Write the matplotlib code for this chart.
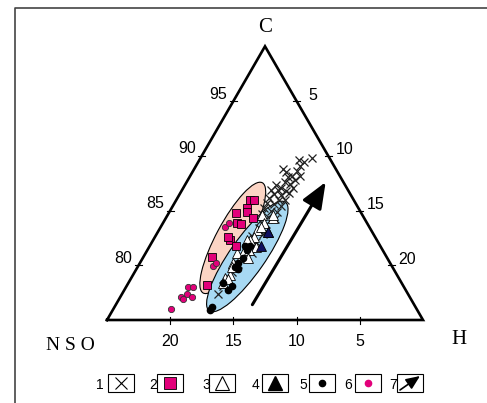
import numpy as np
import matplotlib
matplotlib.use('Agg')
import matplotlib.pyplot as plt
from matplotlib.patches import Ellipse, Rectangle, FancyArrowPatch

# ternary data, C (%) and H (%), NSO = 100 - C - H
# 1: crosses
c1 = [89.8, 89.6, 89.4, 89.1, 88.8, 88.6, 88.2, 88.2, 88.1, 87.8, 87.6, 87.4, 87.1, 87.1,
      86.9, 86.8, 86.5, 86.4, 86.6, 86.1, 86.0, 86.0, 85.7, 85.6, 85.4, 85.2, 85.0, 84.9,
      84.7, 84.4, 84.2, 84.0, 83.8, 83.4, 82.9, 82.7, 82.1, 81.7, 81.1, 80.7, 80.1, 79.4,
      78.7, 78.1, 77.4, 86.9, 87.3, 88.5]
h1 = [8.8, 7.9, 8.4, 8.2, 7.0, 8.2, 8.0, 8.7, 7.8, 8.5, 7.8, 8.3, 7.7, 8.7,
      7.6, 8.3, 7.5, 8.1, 8.6, 7.3, 8.1, 8.6, 7.3, 7.9, 8.6, 7.3, 8.0, 8.5,
      7.4, 8.0, 8.7, 7.6, 8.2, 7.8, 8.4, 7.6, 8.2, 7.8, 8.4, 7.9, 7.8, 7.7,
      7.7, 7.6, 7.6, 7.0, 7.2, 7.4]
# 2: squares
c2 = [86.0, 86.0, 85.2, 84.8, 84.9, 84.3, 83.9, 83.8, 82.3, 81.8, 80.8, 78.2, 82.6]
h2 = [5.8, 6.1, 6.0, 5.3, 6.1, 6.9, 5.8, 6.2, 6.1, 6.8, 5.4, 6.3, 5.8]
# 3: open triangles
c3 = [84.3, 83.0, 83.2, 82.6, 82.3, 82.3, 80.8, 81.1, 81.1, 80.2, 79.1, 78.8, 78.4,
      84.6, 83.9, 84.6, 83.5, 81.7, 81.4, 79.8, 80.7, 78.7]
h3 = [8.5, 8.7, 7.8, 7.8, 7.7, 7.4, 7.7, 7.7, 7.2, 7.4, 7.7, 7.4, 7.5,
      7.5, 8.0, 8.3, 7.9, 8.4, 8.0, 7.5, 8.3, 7.7]
# 4: filled triangles
c4 = [81.8, 83.0]
h4 = [8.8, 8.7]
# 5: black dots
c5 = [76.2, 75.9, 78.4, 77.7, 78.1, 79.8, 79.7, 80.2, 80.7, 81.4, 81.7, 81.8, 81.8]
h5 = [7.7, 7.7, 7.5, 8.2, 8.3, 7.7, 8.0, 7.8, 7.9, 7.9, 7.8, 7.9, 7.5]
# 6: pink dots
c6 = [83.5, 83.9, 79.9, 80.2, 78.0, 78.0, 77.4, 77.1, 76.9, 77.1, 76.0]
h6 = [5.1, 5.2, 5.9, 6.0, 4.9, 5.3, 5.1, 4.8, 5.1, 5.7, 4.6]

left_ticks = [95, 90, 85, 80]
right_ticks = [5, 10, 15, 20]
bottom_ticks = [20, 15, 10, 5]

MAG = '#e2007a'
S = 12.64  # pixels per unit
NUMFONT = ['Liberation Sans Narrow', 'Liberation Sans']


def tern(c, h):
    c = np.asarray(c, dtype=float)
    h = np.asarray(h, dtype=float)
    return h + (c - 75) / 2, (c - 75) * np.sqrt(3) / 2


def px(x, y):
    return (x - 107) / S, (320 - y) / S


fig = plt.figure(figsize=(4.87, 4.03), dpi=100)
ax = fig.add_axes([0, 0, 1, 1])
ax.set_xlim(-107 / S, 380 / S)
ax.set_ylim(-83 / S, 320 / S)
ax.axis('off')

# frame
ax.plot(*zip(px(15, 403), px(15, 8), px(487, 8)), color='#444444', lw=1.2)

# triangle
tri = tern([75, 100, 75, 75], [0, 0, 25, 0])
ax.plot(tri[0], tri[1], color='black', lw=1.9, solid_joinstyle='miter')

tk = 3.5 / S
for v in left_ticks:
    x, y = tern(v, 0)
    ax.plot([x - tk, x + tk], [y, y], color='black', lw=0.8)
    ax.text(x - 15 / S, y + 7 / S, str(v), ha='center', va='center', fontsize=11.5,
            family=NUMFONT)
for v in right_ticks:
    x, y = tern(100 - v, v)
    ax.plot([x - tk, x + tk], [y, y], color='black', lw=0.8)
    ax.text(x + 16 / S, y + 6 / S, str(v), ha='center', va='center', fontsize=11.5,
            family=NUMFONT)
for v in bottom_ticks:
    x, y = tern(75, 25 - v)
    ax.plot([x, x], [y - tk, y + tk], color='black', lw=0.8)
    ax.text(x, y - 21 / S, str(v), ha='center', va='center', fontsize=11.5,
            family=NUMFONT)

ax.text(*px(265, 27), 'C', ha='center', va='center', fontsize=15, family='Liberation Serif')
ax.text(*px(70, 345), 'N S O', ha='center', va='center', fontsize=14, family='Liberation Serif')
ax.text(*px(459, 339), 'H', ha='center', va='center', fontsize=15, family='Liberation Serif')

# ellipses
ax.add_patch(Ellipse(tern(82.5, 6.2), 9.9, 2.6, angle=61.8, facecolor='#fbd4c4',
                     edgecolor='black', lw=0.8, zorder=1))
ax.add_patch(Ellipse(tern(80.8, 8.2), 10.5, 2.8, angle=55, facecolor='#a7d9f3',
                     edgecolor='black', lw=0.8, zorder=1))

# points
ax.plot(*tern(c1, h1), 'x', color='#222222', ms=6, mew=0.9, zorder=3)
ax.plot(*tern(c3, h3), '^', mfc='white', mec='black', ms=6.5, mew=0.6, zorder=4)
ax.plot(*tern(c4, h4), '^', mfc='#101060', mec='black', ms=6.5, mew=0.6, zorder=4)
ax.plot(*tern(c5, h5), 'o', color='black', ms=4.5, zorder=4)
ax.plot(*tern(c2, h2), 's', mfc=MAG, mec='black', ms=6, mew=0.6, zorder=5)
ax.plot(*tern(c6, h6), 'o', mfc=MAG, mec='#333333', ms=4.5, mew=0.6, zorder=5)

# trend arrow
ax.add_patch(FancyArrowPatch(tern(76.4, 10.8), tern(87.6, 11.0),
                             arrowstyle='-|>,head_length=1.6,head_width=0.65',
                             mutation_scale=10, color='black', lw=2.2,
                             shrinkA=0, shrinkB=0, zorder=6))

# legend
items = [(100, 121), (153, 170), (206, 222), (255, 275), (303, 322), (348, 368), (393, 410)]
for i, (nx, bx) in enumerate(items):
    ax.text(*px(nx, 385), str(i + 1), ha='center', va='center', fontsize=10, family=NUMFONT)
    x0, y0 = px(bx - 13, 392)
    ax.add_patch(Rectangle((x0, y0), 26 / S, 18 / S, facecolor='white', edgecolor='black', lw=0.8))
    cx, cy = px(bx, 383)
    if i == 0:
        ax.plot(cx, cy, 'x', color='black', ms=9, mew=0.8)
    elif i == 1:
        ax.plot(cx, cy, 's', mfc=MAG, mec='black', ms=9, mew=0.6)
    elif i == 2:
        ax.plot(cx, cy, '^', mfc='white', mec='black', ms=10, mew=0.8)
    elif i == 3:
        ax.plot(cx, cy, '^', color='black', ms=10)
    elif i == 4:
        ax.plot(cx, cy, 'o', color='black', ms=4.5)
    elif i == 5:
        ax.plot(cx, cy, 'o', color=MAG, ms=4.5)
    else:
        ax.add_patch(FancyArrowPatch(px(bx - 10, 390), px(bx + 10, 376),
                                     arrowstyle='-|>,head_length=1.4,head_width=0.6',
                                     mutation_scale=6, color='black', lw=1.2,
                                     shrinkA=0, shrinkB=0))

fig.savefig('out.png', dpi=100)
